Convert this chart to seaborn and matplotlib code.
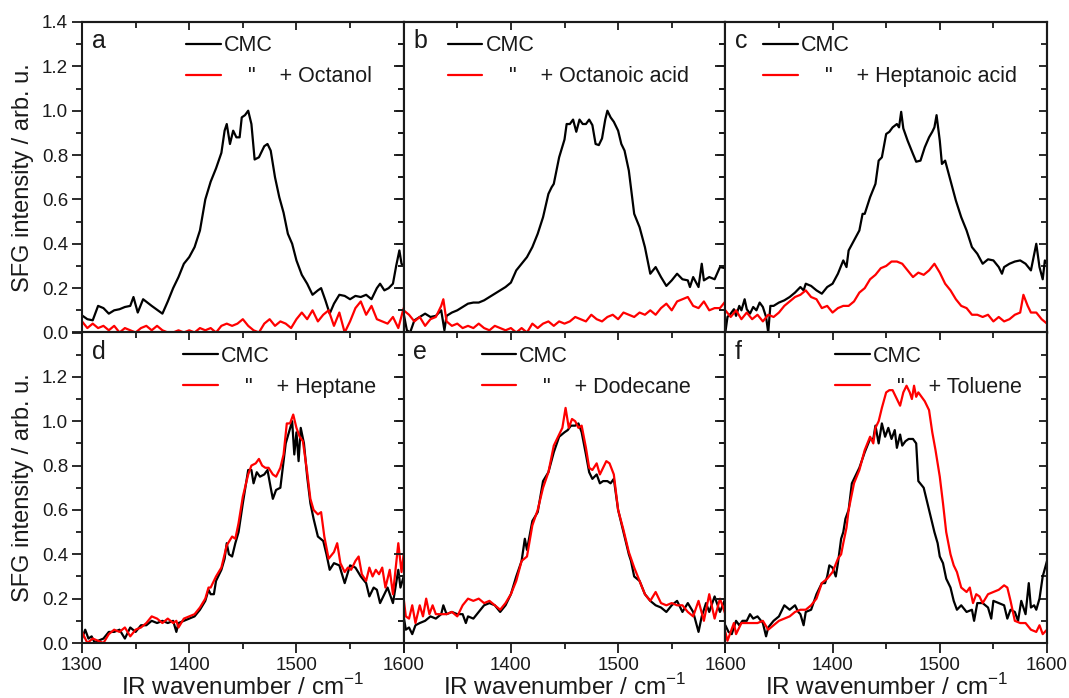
import matplotlib
matplotlib.use("Agg")
import matplotlib.pyplot as plt
from matplotlib.ticker import MultipleLocator
import seaborn as sns

sns.set_style("ticks")
plt.rcParams["font.family"] = ["Liberation Sans", "DejaVu Sans"]
plt.rcParams["mathtext.fontset"] = "custom"
plt.rcParams["mathtext.rm"] = "Liberation Sans"

# ---------------- spectra ----------------
# (a) CMC / + Octanol
wn_a_cmc = [1300, 1305, 1310, 1315, 1320, 1325, 1330, 1335, 1340, 1345, 1348, 1352, 1357, 1365, 1375, 1380,
            1385, 1390, 1395, 1400, 1405, 1410, 1415, 1420, 1425, 1430, 1433, 1435, 1438, 1441, 1444, 1447,
            1449, 1452, 1455, 1458, 1461, 1465, 1470, 1473, 1476, 1480, 1484, 1488, 1492, 1496, 1500, 1505,
            1510, 1515, 1520, 1523, 1527, 1531, 1535, 1540, 1545, 1550, 1555, 1560, 1565, 1570, 1575, 1578,
            1582, 1586, 1590, 1593, 1596, 1598, 1600]
a_cmc = [0.077, 0.06, 0.055, 0.12, 0.11, 0.085, 0.1, 0.105, 0.115, 0.12, 0.16, 0.09, 0.15, 0.12, 0.085, 0.14,
         0.2, 0.25, 0.31, 0.34, 0.385, 0.46, 0.6, 0.68, 0.74, 0.81, 0.91, 0.94, 0.85, 0.91, 0.88, 0.88,
         0.97, 0.98, 1.0, 0.94, 0.78, 0.79, 0.84, 0.85, 0.82, 0.70, 0.61, 0.54, 0.445, 0.4, 0.325, 0.26,
         0.22, 0.17, 0.19, 0.2, 0.145, 0.085, 0.13, 0.17, 0.165, 0.15, 0.165, 0.16, 0.17, 0.15, 0.2, 0.22,
         0.19, 0.2, 0.22, 0.3, 0.37, 0.31, 0.3]
wn_a_add = list(range(1300, 1601, 5))
a_add = [0.05, 0.02, 0.04, 0.02, 0.03, 0.01, 0.03, 0.0, 0.02, 0.01, 0.0, 0.02, 0.03, 0.01, 0.03, 0.01,
         0.0, 0.0, 0.01, 0.0, 0.01, 0.0, 0.02, 0.01, 0.02, 0.0, 0.03, 0.04, 0.03, 0.04, 0.06, 0.03,
         0.01, 0.0, 0.04, 0.06, 0.03, 0.05, 0.04, 0.02, 0.06, 0.09, 0.06, 0.1, 0.05, 0.08, 0.1, 0.03,
         0.09, 0.0, 0.05, 0.11, 0.14, 0.08, 0.12, 0.06, 0.05, 0.04, 0.07, 0.02, 0.11]

# (b) CMC / + Octanoic acid
wn_b_cmc = [1300, 1303, 1306, 1310, 1315, 1320, 1325, 1330, 1335, 1338, 1340, 1345, 1350, 1355, 1360, 1365,
            1370, 1375, 1380, 1385, 1390, 1395, 1400, 1405, 1410, 1415, 1420, 1425, 1430, 1435, 1438, 1440,
            1445, 1450, 1452, 1455, 1458, 1461, 1464, 1467, 1470, 1473, 1476, 1479, 1482, 1485, 1488, 1490,
            1493, 1496, 1500, 1503, 1506, 1510, 1515, 1520, 1525, 1530, 1535, 1540, 1545, 1550, 1555, 1560,
            1565, 1567, 1570, 1575, 1578, 1580, 1585, 1590, 1595, 1600]
b_cmc = [0.085, 0.01, 0.0, 0.055, 0.07, 0.085, 0.07, 0.075, 0.1, 0.01, 0.075, 0.09, 0.1, 0.115, 0.13, 0.135,
         0.135, 0.145, 0.16, 0.175, 0.19, 0.205, 0.225, 0.28, 0.31, 0.34, 0.385, 0.445, 0.52, 0.625, 0.655, 0.67,
         0.79, 0.87, 0.94, 0.94, 0.96, 0.905, 0.96, 0.94, 0.94, 0.96, 0.935, 0.85, 0.845, 0.875, 0.96, 1.0,
         0.97, 0.95, 0.91, 0.85, 0.82, 0.73, 0.535, 0.475, 0.385, 0.265, 0.295, 0.25, 0.21, 0.235, 0.265, 0.24,
         0.235, 0.205, 0.25, 0.205, 0.31, 0.235, 0.25, 0.24, 0.295, 0.29]
wn_b_add = [1300, 1305, 1310, 1315, 1320, 1325, 1330, 1335, 1337, 1340, 1345, 1350, 1355, 1360, 1365, 1370,
            1375, 1380, 1385, 1390, 1395, 1400, 1405, 1410, 1415, 1420, 1425, 1430, 1435, 1440, 1445, 1450,
            1455, 1460, 1465, 1470, 1475, 1480, 1485, 1490, 1495, 1500, 1505, 1510, 1515, 1520, 1525, 1530,
            1535, 1540, 1545, 1550, 1555, 1560, 1565, 1570, 1575, 1580, 1585, 1590, 1595, 1600]
b_add = [0.1, 0.08, 0.05, 0.07, 0.03, 0.06, 0.07, 0.12, 0.15, 0.05, 0.03, 0.04, 0.02, 0.03, 0.02, 0.04,
         0.02, 0.01, 0.03, 0.02, 0.01, 0.02, 0.0, 0.02, 0.0, 0.04, 0.02, 0.04, 0.05, 0.03, 0.05, 0.04,
         0.05, 0.07, 0.06, 0.05, 0.08, 0.06, 0.05, 0.07, 0.08, 0.06, 0.09, 0.08, 0.07, 0.09, 0.08, 0.1,
         0.08, 0.11, 0.13, 0.1, 0.14, 0.15, 0.16, 0.12, 0.11, 0.14, 0.1, 0.11, 0.11, 0.14]

# (c) CMC / + Heptanoic acid
wn_c_cmc = [1300, 1302, 1305, 1308, 1310, 1313, 1315, 1318, 1320, 1323, 1326, 1329, 1332, 1335, 1338, 1340,
            1342, 1345, 1350, 1355, 1360, 1365, 1370, 1373, 1375, 1380, 1385, 1390, 1395, 1400, 1405, 1410,
            1413, 1415, 1420, 1425, 1428, 1430, 1435, 1440, 1443, 1446, 1450, 1453, 1456, 1460, 1462, 1464,
            1466, 1470, 1475, 1478, 1482, 1486, 1490, 1493, 1495, 1497, 1500, 1502, 1505, 1510, 1515, 1520,
            1525, 1530, 1535, 1540, 1545, 1550, 1555, 1558, 1560, 1565, 1570, 1575, 1580, 1585, 1590, 1593,
            1596, 1598, 1600]
c_cmc = [0.0, 0.07, 0.085, 0.105, 0.075, 0.12, 0.1, 0.15, 0.105, 0.085, 0.115, 0.1, 0.135, 0.115, 0.07, 0.0,
         0.12, 0.12, 0.135, 0.145, 0.16, 0.18, 0.205, 0.19, 0.22, 0.21, 0.19, 0.175, 0.205, 0.22, 0.265, 0.325,
         0.295, 0.37, 0.415, 0.46, 0.535, 0.535, 0.61, 0.67, 0.775, 0.79, 0.895, 0.905, 0.925, 0.94, 0.925, 0.995,
         0.92, 0.865, 0.805, 0.77, 0.775, 0.835, 0.88, 0.905, 0.925, 0.98, 0.865, 0.76, 0.775, 0.685, 0.595, 0.52,
         0.46, 0.385, 0.355, 0.31, 0.33, 0.325, 0.295, 0.265, 0.295, 0.31, 0.32, 0.325, 0.31, 0.28, 0.4, 0.295,
         0.24, 0.325, 0.31]
wn_c_add = [1300, 1305, 1310, 1315, 1320, 1325, 1330, 1335, 1340, 1345, 1350, 1355, 1360, 1365, 1370, 1375,
            1380, 1385, 1390, 1395, 1400, 1405, 1410, 1415, 1420, 1425, 1430, 1435, 1440, 1445, 1450, 1455,
            1460, 1465, 1470, 1475, 1480, 1485, 1490, 1495, 1500, 1505, 1510, 1515, 1520, 1525, 1530, 1535,
            1540, 1545, 1550, 1555, 1560, 1565, 1570, 1575, 1578, 1582, 1585, 1590, 1595, 1600]
c_add = [0.1, 0.07, 0.1, 0.06, 0.09, 0.06, 0.08, 0.05, 0.08, 0.07, 0.09, 0.12, 0.14, 0.16, 0.17, 0.19,
         0.16, 0.15, 0.11, 0.12, 0.09, 0.11, 0.12, 0.12, 0.14, 0.18, 0.2, 0.24, 0.26, 0.29, 0.3, 0.32,
         0.32, 0.31, 0.28, 0.25, 0.27, 0.26, 0.28, 0.31, 0.27, 0.22, 0.19, 0.15, 0.12, 0.11, 0.08, 0.08,
         0.07, 0.08, 0.05, 0.07, 0.05, 0.06, 0.08, 0.09, 0.17, 0.12, 0.09, 0.09, 0.06, 0.04]

# (d) CMC / + Heptane
wn_d_cmc = [1300, 1303, 1306, 1309, 1312, 1315, 1320, 1325, 1330, 1335, 1340, 1345, 1350, 1355, 1360, 1365,
            1370, 1375, 1380, 1385, 1388, 1390, 1395, 1400, 1405, 1410, 1415, 1418, 1420, 1423, 1425, 1430,
            1433, 1435, 1437, 1440, 1443, 1446, 1450, 1455, 1458, 1460, 1463, 1466, 1470, 1473, 1476, 1478,
            1481, 1485, 1488, 1490, 1493, 1496, 1498, 1500, 1502, 1504, 1507, 1510, 1513, 1516, 1520, 1525,
            1528, 1531, 1535, 1540, 1545, 1550, 1555, 1560, 1565, 1568, 1572, 1575, 1578, 1582, 1585, 1590,
            1595, 1597, 1600]
d_cmc = [0.02, 0.06, 0.02, 0.03, 0.0, 0.01, 0.02, 0.05, 0.05, 0.06, 0.02, 0.07, 0.05, 0.08, 0.08, 0.1,
         0.09, 0.1, 0.09, 0.1, 0.05, 0.09, 0.1, 0.11, 0.12, 0.15, 0.19, 0.24, 0.22, 0.22, 0.28, 0.33,
         0.38, 0.45, 0.4, 0.39, 0.45, 0.5, 0.63, 0.78, 0.78, 0.72, 0.77, 0.75, 0.76, 0.78, 0.7, 0.65,
         0.69, 0.7, 0.82, 0.9, 0.95, 1.0, 0.85, 0.95, 0.82, 0.97, 0.9, 0.75, 0.63, 0.56, 0.48, 0.46,
         0.4, 0.33, 0.36, 0.35, 0.27, 0.35, 0.34, 0.3, 0.27, 0.21, 0.25, 0.24, 0.18, 0.22, 0.25, 0.18,
         0.33, 0.25, 0.3]
wn_d_add = [1300, 1305, 1310, 1315, 1320, 1325, 1330, 1335, 1340, 1345, 1350, 1355, 1360, 1365, 1370, 1375,
            1380, 1385, 1388, 1390, 1395, 1400, 1405, 1410, 1415, 1418, 1420, 1425, 1430, 1435, 1440, 1443,
            1446, 1450, 1455, 1458, 1462, 1465, 1468, 1471, 1474, 1478, 1481, 1485, 1488, 1491, 1494, 1497,
            1500, 1503, 1506, 1510, 1513, 1516, 1520, 1523, 1526, 1530, 1535, 1538, 1541, 1545, 1548, 1551,
            1555, 1558, 1561, 1565, 1568, 1571, 1574, 1577, 1580, 1583, 1587, 1590, 1595, 1598, 1600]
d_add = [0.05, 0.0, 0.02, 0.01, 0.0, 0.04, 0.06, 0.05, 0.07, 0.03, 0.06, 0.07, 0.09, 0.12, 0.11, 0.09,
         0.11, 0.09, 0.1, 0.07, 0.11, 0.12, 0.13, 0.16, 0.2, 0.25, 0.25, 0.3, 0.34, 0.44, 0.48, 0.47,
         0.54, 0.66, 0.76, 0.8, 0.81, 0.83, 0.8, 0.79, 0.79, 0.76, 0.75, 0.79, 0.85, 0.99, 0.99, 1.03,
         0.97, 0.93, 0.91, 0.77, 0.65, 0.6, 0.58, 0.59, 0.48, 0.38, 0.41, 0.45, 0.36, 0.32, 0.34, 0.33,
         0.37, 0.39, 0.31, 0.28, 0.34, 0.3, 0.33, 0.31, 0.34, 0.25, 0.33, 0.22, 0.45, 0.32, 0.4]

# (e) CMC / + Dodecane
wn_e_cmc = [1300, 1302, 1305, 1308, 1311, 1315, 1320, 1325, 1330, 1335, 1337, 1340, 1345, 1350, 1355, 1358,
            1360, 1365, 1370, 1375, 1380, 1385, 1390, 1395, 1400, 1405, 1410, 1413, 1415, 1420, 1425, 1430,
            1435, 1440, 1445, 1450, 1453, 1456, 1460, 1463, 1466, 1470, 1473, 1476, 1480, 1483, 1486, 1490,
            1493, 1496, 1500, 1505, 1510, 1512, 1515, 1520, 1525, 1530, 1535, 1540, 1545, 1550, 1555, 1558,
            1560, 1565, 1570, 1575, 1578, 1582, 1585, 1590, 1595, 1600]
e_cmc = [0.12, 0.06, 0.07, 0.04, 0.08, 0.09, 0.1, 0.12, 0.11, 0.13, 0.17, 0.13, 0.14, 0.13, 0.13, 0.09,
         0.12, 0.11, 0.14, 0.17, 0.18, 0.17, 0.14, 0.17, 0.22, 0.3, 0.37, 0.47, 0.42, 0.55, 0.59, 0.73,
         0.77, 0.86, 0.93, 0.95, 0.96, 0.98, 0.98, 0.99, 0.95, 0.85, 0.77, 0.74, 0.76, 0.72, 0.73, 0.73,
         0.72, 0.74, 0.6, 0.5, 0.4, 0.37, 0.3, 0.28, 0.22, 0.19, 0.17, 0.16, 0.14, 0.17, 0.19, 0.16,
         0.14, 0.18, 0.14, 0.05, 0.12, 0.18, 0.14, 0.21, 0.14, 0.2]
wn_e_add = [1300, 1302, 1305, 1308, 1311, 1315, 1318, 1321, 1324, 1327, 1330, 1335, 1340, 1345, 1350, 1355,
            1360, 1365, 1370, 1375, 1380, 1385, 1390, 1395, 1400, 1405, 1410, 1415, 1420, 1425, 1430, 1435,
            1440, 1445, 1448, 1451, 1454, 1457, 1460, 1463, 1466, 1470, 1473, 1476, 1480, 1483, 1486, 1489,
            1492, 1496, 1500, 1505, 1510, 1515, 1520, 1525, 1530, 1535, 1540, 1545, 1550, 1555, 1560, 1565,
            1570, 1575, 1580, 1585, 1590, 1595, 1600]
e_add = [0.2, 0.12, 0.11, 0.17, 0.09, 0.17, 0.12, 0.2, 0.13, 0.17, 0.13, 0.13, 0.13, 0.14, 0.12, 0.17,
         0.2, 0.19, 0.2, 0.18, 0.19, 0.17, 0.15, 0.18, 0.22, 0.28, 0.37, 0.39, 0.53, 0.6, 0.7, 0.77,
         0.89, 0.94, 0.97, 1.06, 0.97, 1.01, 1.0, 0.97, 0.98, 0.88, 0.79, 0.78, 0.81, 0.76, 0.79, 0.82,
         0.81, 0.76, 0.6, 0.51, 0.41, 0.34, 0.28, 0.22, 0.19, 0.23, 0.18, 0.17, 0.18, 0.17, 0.17, 0.14,
         0.12, 0.19, 0.1, 0.22, 0.11, 0.2, 0.13]

# (f) CMC / + Toluene
wn_f_cmc = [1300, 1303, 1306, 1310, 1313, 1316, 1320, 1323, 1326, 1330, 1335, 1338, 1340, 1345, 1350, 1355,
            1360, 1365, 1368, 1370, 1373, 1375, 1380, 1385, 1390, 1393, 1395, 1397, 1400, 1403, 1405, 1408,
            1410, 1412, 1415, 1418, 1420, 1425, 1430, 1435, 1438, 1440, 1443, 1446, 1449, 1452, 1455, 1458,
            1460, 1463, 1465, 1468, 1471, 1475, 1478, 1480, 1485, 1490, 1495, 1498, 1500, 1503, 1506, 1510,
            1513, 1516, 1520, 1525, 1530, 1532, 1535, 1540, 1545, 1548, 1550, 1555, 1560, 1563, 1566, 1570,
            1573, 1576, 1580, 1583, 1585, 1588, 1590, 1593, 1596, 1600]
f_cmc = [0.08, 0.05, 0.04, 0.1, 0.08, 0.1, 0.1, 0.13, 0.11, 0.12, 0.09, 0.03, 0.07, 0.1, 0.12, 0.17,
         0.15, 0.17, 0.14, 0.13, 0.08, 0.14, 0.15, 0.22, 0.27, 0.27, 0.3, 0.35, 0.34, 0.3, 0.36, 0.47,
         0.5, 0.56, 0.6, 0.72, 0.74, 0.79, 0.86, 0.92, 0.92, 0.98, 0.9, 0.99, 0.93, 0.97, 0.92, 0.96,
         0.88, 0.94, 0.89, 0.91, 0.92, 0.92, 0.9, 0.73, 0.7, 0.6, 0.5, 0.45, 0.39, 0.36, 0.29, 0.25,
         0.19, 0.15, 0.17, 0.14, 0.15, 0.1, 0.18, 0.18, 0.16, 0.11, 0.19, 0.18, 0.17, 0.11, 0.15, 0.14,
         0.1, 0.19, 0.13, 0.27, 0.16, 0.17, 0.15, 0.2, 0.3, 0.37]
wn_f_add = [1300, 1302, 1305, 1308, 1310, 1315, 1320, 1325, 1330, 1335, 1340, 1345, 1350, 1355, 1360, 1365,
            1370, 1375, 1380, 1385, 1390, 1395, 1400, 1405, 1408, 1410, 1413, 1415, 1420, 1425, 1430, 1435,
            1438, 1440, 1443, 1446, 1450, 1453, 1456, 1460, 1463, 1466, 1469, 1472, 1474, 1476, 1478, 1480,
            1483, 1486, 1490, 1493, 1496, 1500, 1503, 1506, 1510, 1513, 1516, 1520, 1525, 1528, 1531, 1534,
            1537, 1540, 1545, 1550, 1555, 1560, 1563, 1566, 1570, 1575, 1580, 1585, 1590, 1593, 1596, 1600]
f_add = [0.05, 0.01, 0.05, 0.09, 0.04, 0.09, 0.09, 0.09, 0.09, 0.1, 0.06, 0.08, 0.1, 0.11, 0.12, 0.14,
         0.15, 0.15, 0.17, 0.2, 0.27, 0.29, 0.32, 0.38, 0.4, 0.45, 0.52, 0.6, 0.72, 0.78, 0.87, 0.93,
         0.9, 0.97, 1.0, 1.06, 1.13, 1.14, 1.14, 1.1, 1.07, 1.13, 1.16, 1.13, 1.1, 1.16, 1.11, 1.13,
         1.11, 1.09, 1.05, 0.95, 0.87, 0.75, 0.63, 0.5, 0.4, 0.35, 0.32, 0.25, 0.23, 0.25, 0.18, 0.22,
         0.21, 0.18, 0.22, 0.23, 0.24, 0.26, 0.25, 0.19, 0.1, 0.09, 0.09, 0.06, 0.05, 0.08, 0.04, 0.06]

panel_letters = ["a", "b", "c", "d", "e", "f"]
additives = ["Octanol", "Octanoic acid", "Heptanoic acid", "Heptane", "Dodecane", "Toluene"]
cmc_series = [(wn_a_cmc, a_cmc), (wn_b_cmc, b_cmc), (wn_c_cmc, c_cmc),
              (wn_d_cmc, d_cmc), (wn_e_cmc, e_cmc), (wn_f_cmc, f_cmc)]
add_series = [(wn_a_add, a_add), (wn_b_add, b_add), (wn_c_add, c_add),
              (wn_d_add, d_add), (wn_e_add, e_add), (wn_f_add, f_add)]
# legend anchor (axes fraction) for each panel
legend_x = [0.324, 0.137, 0.118, 0.315, 0.242, 0.342]

x_ticks = [1300, 1400, 1500, 1600]
y_ticks = [0.0, 0.2, 0.4, 0.6, 0.8, 1.0, 1.2, 1.4]
x_label = "IR wavenumber / cm$^{-1}$"
y_label = "SFG intensity / arb. u."

TXT = "#1a1a1a"
fig, axes = plt.subplots(2, 3, figsize=(10.69, 6.98), dpi=100)
fig.subplots_adjust(left=82 / 1069, right=1047 / 1069, top=1 - 22 / 698, bottom=1 - 643 / 698,
                    wspace=0, hspace=0)

for i, ax in enumerate(axes.flat):
    row, col = divmod(i, 3)
    wx, wy = cmc_series[i]
    rx, ry = add_series[i]
    sns.lineplot(x=wx, y=wy, ax=ax, color="black", lw=1.6, label="CMC", sort=False, estimator=None)
    sns.lineplot(x=rx, y=ry, ax=ax, color="#ff0000", lw=1.6,
                 label='    "    + ' + additives[i], sort=False, estimator=None)

    ax.set_xlim(1300, 1600)
    ax.set_ylim(0, 1.4)
    ax.set_xticks(x_ticks)
    ax.set_yticks(y_ticks)
    ax.xaxis.set_minor_locator(MultipleLocator(50))
    ax.yaxis.set_minor_locator(MultipleLocator(0.1))
    ax.tick_params(which="major", direction="out", length=7, width=1.3, colors=TXT,
                   labelsize=13.5, pad=3)
    ax.tick_params(which="minor", direction="out", length=4.5, width=1.3, colors=TXT)
    for sp in ax.spines.values():
        sp.set_linewidth(1.5)
        sp.set_color(TXT)

    # inward ticks on the top and right edges
    top = ax.secondary_xaxis("top")
    top.set_xticks(x_ticks)
    top.xaxis.set_minor_locator(MultipleLocator(50))
    top.tick_params(which="both", direction="in", labeltop=False, width=1.3, colors=TXT)
    top.tick_params(which="major", length=6)
    top.tick_params(which="minor", length=4.5)
    top.spines["top"].set_linewidth(1.5)
    right = ax.secondary_yaxis("right")
    right.set_yticks(y_ticks)
    right.yaxis.set_minor_locator(MultipleLocator(0.1))
    right.tick_params(which="both", direction="in", labelright=False, width=1.3, colors=TXT)
    right.tick_params(which="major", length=6)
    right.tick_params(which="minor", length=4.5)
    right.spines["right"].set_linewidth(1.5)

    if col == 0:
        labels = [f"{v:.1f}" for v in y_ticks]
        if row == 1:
            labels[-1] = ""
        ax.set_yticklabels(labels)
        ax.set_ylabel(y_label, fontsize=17, color=TXT, labelpad=6)
    else:
        ax.set_yticklabels([])
        ax.set_ylabel("")
    if row == 1:
        if col == 0:
            ax.set_xticklabels([str(t) for t in x_ticks])
        else:
            ax.set_xticklabels([""] + [str(t) for t in x_ticks[1:]])
        ax.set_xlabel(x_label, fontsize=17.5, color=TXT, labelpad=0)
    else:
        ax.set_xticklabels([])
        ax.set_xlabel("")

    ax.text(0.03, 0.915, panel_letters[i], transform=ax.transAxes, fontsize=18,
            color=TXT, va="baseline", ha="left")
    ax.legend(loc="upper left", bbox_to_anchor=(legend_x[i], 0.957), frameon=False,
              borderaxespad=0, borderpad=0, handlelength=1.6, handletextpad=0.15,
              labelspacing=0.45, fontsize=15.5, labelcolor=TXT)

fig.savefig("out.png", dpi=100)
